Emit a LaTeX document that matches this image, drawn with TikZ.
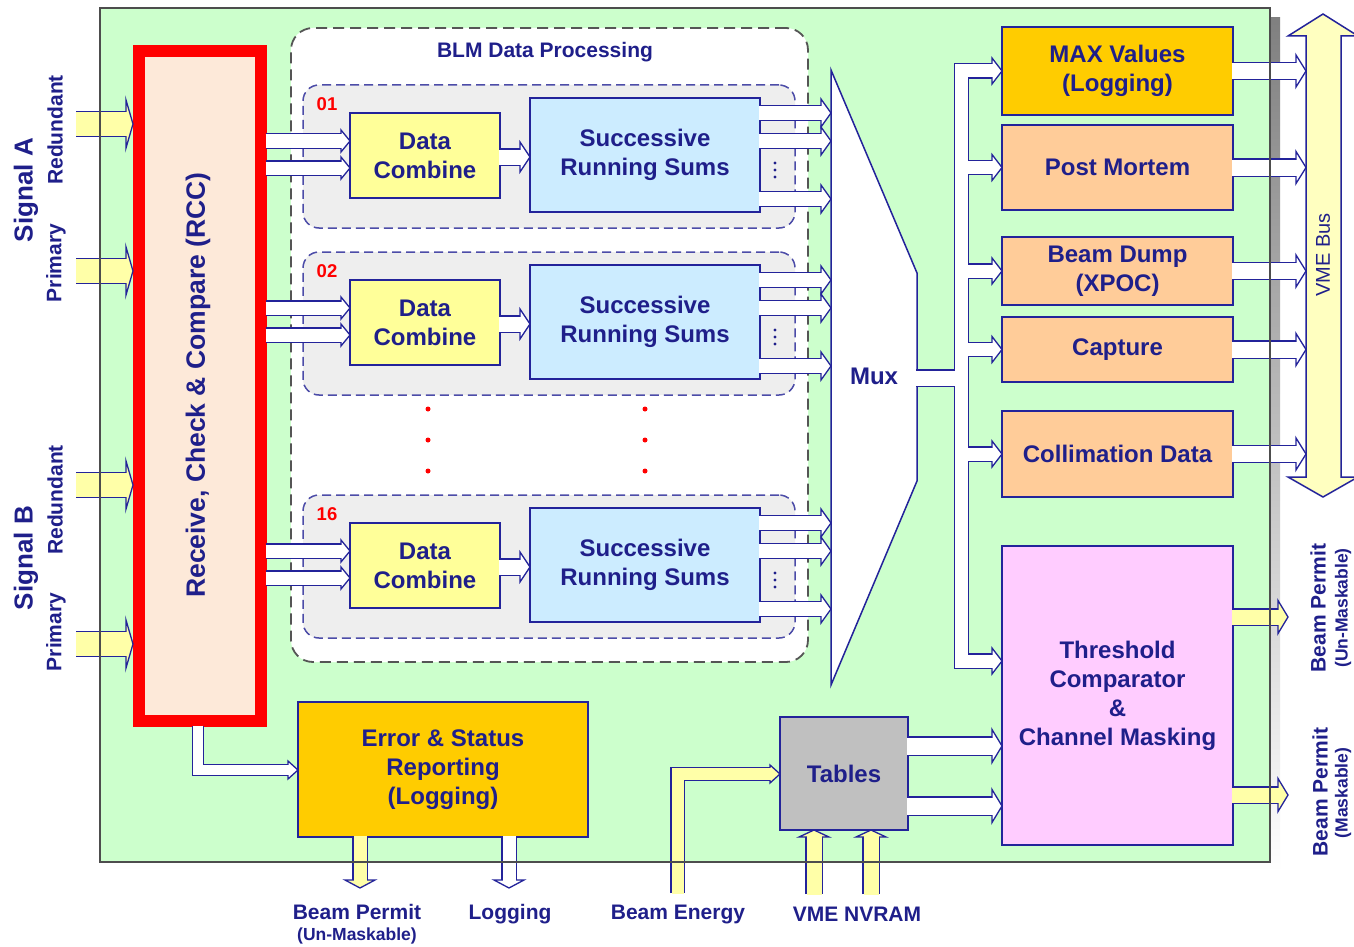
\documentclass[tikz,border=0pt]{standalone}
\usepackage{fontspec}
\setmainfont{Liberation Sans}
\usetikzlibrary{calc}

\definecolor{navy}{HTML}{1F1F8A}
\definecolor{arrline}{HTML}{23239A}
\definecolor{boardfill}{HTML}{CCFFCC}
\definecolor{boardline}{HTML}{4D4D4D}
\definecolor{shade}{HTML}{D6D6D6}
\definecolor{rccfill}{HTML}{FDE9D9}
\definecolor{grpfill}{HTML}{EEEEEE}
\definecolor{grpline}{HTML}{4C4CA8}
\definecolor{blmline}{HTML}{555555}
\definecolor{dcfill}{HTML}{FFFF99}
\definecolor{srsfill}{HTML}{CCECFF}
\definecolor{gold}{HTML}{FFCC00}
\definecolor{peach}{HTML}{FFCC99}
\definecolor{pinkfill}{HTML}{FFCCFF}
\definecolor{tabfill}{HTML}{C0C0C0}
\definecolor{yel}{HTML}{FFFFA8}
\definecolor{busfill}{HTML}{FFFFC0}

\newcommand\fbig{\fontsize{24}{29}\selectfont\bfseries}
\newcommand\fmid{\fontsize{21}{25}\selectfont\bfseries}
\newcommand\fsmall{\fontsize{17.5}{21}\selectfont\bfseries}

% hollow block arrows: #1 fill, #2 tail reference, #3 tip, #4 half shaft, #5 half head, #6 head length
\newcommand\arrR[6]{%
  \draw[arrline, line width={2*#4+2.6}] ($(#2 |- #3)+(-1,0)$) -- ($(#3)+(-#6,0)$);
  \filldraw[fill=#1, draw=arrline, line width=1.3] ($(#3)+(-#6,-#5)$) -- (#3) -- ($(#3)+(-#6,#5)$) -- cycle;
  \draw[#1, line width={2*#4}] ($(#2 |- #3)+(-1.5,0)$) -- ($(#3)+(-#6+1,0)$);
}
\newcommand\arrD[6]{%
  \draw[arrline, line width={2*#4+2.6}] ($(#3 |- #2)+(0,-1)$) -- ($(#3)+(0,-#6)$);
  \filldraw[fill=#1, draw=arrline, line width=1.3] ($(#3)+(-#5,-#6)$) -- (#3) -- ($(#3)+(#5,-#6)$) -- cycle;
  \draw[#1, line width={2*#4}] ($(#3 |- #2)+(0,-1.5)$) -- ($(#3)+(0,-#6+1)$);
}
\newcommand\arrU[6]{%
  \draw[arrline, line width={2*#4+2.6}] ($(#3 |- #2)+(0,1)$) -- ($(#3)+(0,#6)$);
  \filldraw[fill=#1, draw=arrline, line width=1.3] ($(#3)+(-#5,#6)$) -- (#3) -- ($(#3)+(#5,#6)$) -- cycle;
  \draw[#1, line width={2*#4}] ($(#3 |- #2)+(0,1.5)$) -- ($(#3)+(0,#6-1)$);
}

\begin{document}
\begin{tikzpicture}[x=1pt,y=-1pt,line join=miter,
  box/.style={draw=arrline, line width=1.5, inner sep=0pt, outer sep=0pt, text=navy, align=center, font=\fbig},
  lbl/.style={text=navy, align=center, inner sep=0pt},
  grp/.style={draw=grpline, fill=grpfill, line width=1.5, dash pattern=on 9pt off 5pt, rounded corners=16, minimum width=492, minimum height=143, inner sep=0pt},
  reddot/.style={circle, fill=red, inner sep=0pt, minimum size=5}]
\useasboundingbox (0,0) rectangle (1354,947);
\fill[white] (0,0) rectangle (1354,947);

% board with drop shadow
\fill[shade] (110,18) rectangle (1280,872);
\node[fill=boardfill, minimum width=1170, minimum height=854, inner sep=0pt, outer sep=0pt] (board) at (685,435) {};

% BLM data processing frame
\node[draw=blmline, fill=white, line width=1.8, dash pattern=on 11pt off 6pt, rounded corners=22, minimum width=517, minimum height=634, inner sep=0pt] (blm) at (549.5,345) {};
\node[lbl, font=\fmid] (blmt) at (545,52) {BLM Data Processing};

% processing channels
\foreach \dy/\n in {0/01,167/02,410/16}{
  \node[grp] (grp\n) at (549,156.5+\dy) {};
  \node[lbl, text=red, font=\fontsize{18.5}{20}\selectfont\bfseries] (num\n) at (327,104+\dy) {\n};
  \node[box, fill=dcfill, minimum width=150, minimum height=85] (dc\n) at (425,155.5+\dy) {Data\\Combine};
  \node[box, fill=srsfill, minimum width=230, minimum height=114] (srs\n) at (645,155+\dy) {Successive\\Running Sums};
}
\foreach \x in {428,645}{
  \foreach \y in {409,440,471}{
    \node[reddot] at (\x,\y) {};
  }
}

% receive, check and compare
\node[draw=red, fill=rccfill, line width=12, minimum width=122, minimum height=669.5, inner sep=0pt, outer sep=6] (rcc) at (200,386.25) {};
\node[lbl, rotate=90, font=\fontsize{26.5}{30}\selectfont\bfseries] (rcct) at (198,385) {Receive, Check \& Compare (RCC)};

% multiplexer
\draw[draw=arrline, fill=white, line width=1.5] (831,70) -- (917,273) -- (917,481) -- (831,685) -- cycle;
\node[lbl, font=\fbig] (mux) at (874,376) {Mux};
\coordinate (muxL) at (831,377);
\coordinate (muxR) at (917,378);

% consumer blocks
\node[box, fill=gold, minimum width=231, minimum height=88] (max) at (1117.5,71) {MAX Values\\(Logging)};
\node[box, fill=peach, minimum width=231, minimum height=85] (pm) at (1117.5,167.5) {Post Mortem};
\node[box, fill=peach, minimum width=231, minimum height=68] (bd) at (1117.5,271) {Beam Dump\\(XPOC)};
\node[box, fill=peach, minimum width=231, minimum height=65] (cap) at (1117.5,349.5) {Capture};
\node[box, fill=peach, minimum width=231, minimum height=86] (col) at (1117.5,454) {Collimation Data};
\node[box, fill=pinkfill, minimum width=231, minimum height=299] (thr) at (1117.5,695.5) {Threshold\\Comparator\\\&\\Channel Masking};
\node[box, fill=gold, minimum width=290, minimum height=135] (esr) at (443,769.5) {Error \& Status\\Reporting\\(Logging)};
\node[box, fill=tabfill, minimum width=128, minimum height=113] (tab) at (844,773.5) {Tables};

% VME bus
\draw[draw=arrline, fill=busfill, line width=1.5] (1323,14) -- (1358,36) -- (1341,36) -- (1341,477) -- (1358,477) -- (1323,497) -- (1288,477) -- (1306,477) -- (1306,36) -- (1288,36) -- cycle;
\node[lbl, rotate=90, font=\fontsize{20}{24}\selectfont] (vme) at (1323,255) {VME Bus};
\coordinate (vmeL) at (1306,0);

% signal inputs
\coordinate (sigin) at (77,0);
\foreach \y/\k in {124/1,271/2,485/3,644/4}{
  \coordinate (s\k) at (rcc.west |- 0,\y);
  \arrR{yel}{sigin}{s\k}{12}{24}{7}
}

% channel data paths
\foreach \n in {01,02,16}{
  \coordinate (ia\n) at ($(dc\n.west)+(0,-14.5)$);
  \coordinate (ib\n) at ($(dc\n.west)+(0,12.5)$);
  \arrR{white}{rcc.east}{ia\n}{6.5}{11}{9}
  \arrR{white}{rcc.east}{ib\n}{6.5}{11}{9}
  \coordinate (m\n) at ($(srs\n.west)+(0,2)$);
  \arrR{white}{dc\n.east}{m\n}{7.5}{15}{10}
  \coordinate (qa\n) at ($(srs\n.east)+(0,-42)$);
  \coordinate (qb\n) at ($(srs\n.east)+(0,-14)$);
  \coordinate (qc\n) at ($(srs\n.east)+(0,44)$);
  \coordinate (oa\n) at (muxL |- qa\n);
  \coordinate (ob\n) at (muxL |- qb\n);
  \coordinate (oc\n) at (muxL |- qc\n);
  \arrR{white}{srs\n.east}{oa\n}{7}{14}{10}
  \arrR{white}{srs\n.east}{ob\n}{7}{14}{10}
  \arrR{white}{srs\n.east}{oc\n}{7}{14}{10}
  \foreach \d in {8,15,22}{
    \fill[navy] ($(srs\n.east)+(15,\d)$) circle[radius=1.7pt];
  }
}

% distribution bus after the multiplexer
\coordinate (busx) at (961.5,0);
\coordinate (thrT) at ($(thr.north west)+(0,115)$);
\draw[arrline, line width=15.6] ($(max.west)+(-10,0)$) -- (busx |- max.west) -- (busx |- thrT) -- ($(thrT)+(-10,0)$);
\foreach \b in {pm,bd,cap,col}{
  \draw[arrline, line width=15.6] (busx |- \b.west) -- ($(\b.west)+(-10,0)$);
}
\draw[arrline, line width=17.6] ($(muxR)+(-1,0)$) -- (busx |- muxR);
\foreach \b in {max.west,pm.west,bd.west,cap.west,col.west,thrT}{
  \filldraw[fill=white, draw=arrline, line width=1.3] ($(\b)+(-10,-13)$) -- (\b) -- ($(\b)+(-10,13)$) -- cycle;
}
\draw[white, line width=13] ($(max.west)+(-9,0)$) -- (busx |- max.west) -- (busx |- thrT) -- ($(thrT)+(-9,0)$);
\foreach \b in {pm,bd,cap,col}{
  \draw[white, line width=13] (busx |- \b.west) -- ($(\b.west)+(-9,0)$);
}
\draw[white, line width=15] ($(muxR)+(-1.5,0)$) -- (busx |- muxR);

% outputs to the VME bus
\foreach \b in {max,pm,bd,cap,col}{
  \coordinate (v\b) at (vmeL |- \b.east);
  \arrR{white}{\b.east}{v\b}{8}{16}{10}
}

% beam permit outputs
\coordinate (p1) at (1288,617);
\coordinate (p2) at (1288,795);
\arrR{yel}{thr.east}{p1}{7.5}{16.5}{10}
\arrR{yel}{thr.east}{p2}{7.5}{16.5}{10}

% tables to threshold comparator
\coordinate (tb1) at (thr.west |- 0,746);
\coordinate (tb2) at (thr.west |- 0,806);
\arrR{white}{tab.east}{tb1}{8.5}{16.5}{10}
\arrR{white}{tab.east}{tb2}{8.5}{16.5}{10}

% VME / NVRAM inputs to tables
\coordinate (nvb) at (0,893);
\coordinate (nv1) at (tab.south -| 814,0);
\coordinate (nv2) at (tab.south -| 871,0);
\arrU{yel}{nvb}{nv1}{7.5}{15}{7}
\arrU{yel}{nvb}{nv2}{7.5}{15}{7}

% beam energy input
\coordinate (beT) at (tab.west |- 0,774);
\coordinate (beB) at (677.5,893);
\draw[arrline, line width=14.6] (beB) -- (beB |- beT) -- ($(beT)+(-10,0)$);
\filldraw[fill=yel, draw=arrline, line width=1.3] ($(beT)+(-10,-9)$) -- (beT) -- ($(beT)+(-10,9)$) -- cycle;
\draw[yel, line width=12] ($(beB)+(0,0.5)$) -- (beB |- beT) -- ($(beT)+(-9,0)$);

% RCC to error reporting
\coordinate (rb) at ($(rcc.south)+(-2,-1)$);
\coordinate (esT) at (esr.west |- 0,770);
\draw[arrline, line width=12.6] (rb) -- (rb |- esT) -- ($(esT)+(-10,0)$);
\filldraw[fill=white, draw=arrline, line width=1.3] ($(esT)+(-10,-9)$) -- (esT) -- ($(esT)+(-10,9)$) -- cycle;
\draw[white, line width=10] ($(rb)+(0,-0.5)$) -- (rb |- esT) -- ($(esT)+(-9,0)$);

% error reporting outputs
\coordinate (bp) at (360,888);
\coordinate (lg) at (509,888);
\arrD{yel}{esr.south}{bp}{6.5}{15}{8}
\arrD{white}{esr.south}{lg}{6.5}{15}{8}

% board outline on top
\draw[boardline, line width=2] (board.north west) rectangle (board.south east);

% external labels
\node[lbl, rotate=90, font=\fontsize{26}{30}\selectfont\bfseries] (siga) at (26,190) {Signal A};
\node[lbl, rotate=90, font=\fmid] (sar) at (55,130) {Redundant};
\node[lbl, rotate=90, font=\fmid] (sap) at (56,263) {Primary};
\node[lbl, rotate=90, font=\fontsize{26}{30}\selectfont\bfseries] (sigb) at (26,558) {Signal B};
\node[lbl, rotate=90, font=\fmid] (sbr) at (55,500) {Redundant};
\node[lbl, rotate=90, font=\fmid] (sbp) at (56,632) {Primary};

\node[lbl, font=\fmid] (bpl) at (357,912) {Beam Permit};
\node[lbl, font=\fsmall] (bpu) at (357,936) {(Un-Maskable)};
\node[lbl, font=\fmid] (lgl) at (510,914) {Logging};
\node[lbl, font=\fmid] (bel) at (678,914) {Beam Energy};
\node[lbl, font=\fmid] (nvl) at (857,914) {VME NVRAM};

\node[lbl, rotate=90, font=\fmid] (rp1) at (1318,608) {Beam Permit};
\node[lbl, rotate=90, font=\fsmall] (rp1s) at (1343,608) {(Un-Maskable)};
\node[lbl, rotate=90, font=\fmid] (rp2) at (1320,792) {Beam Permit};
\node[lbl, rotate=90, font=\fsmall] (rp2s) at (1343,793) {(Maskable)};
\end{tikzpicture}
\end{document}
